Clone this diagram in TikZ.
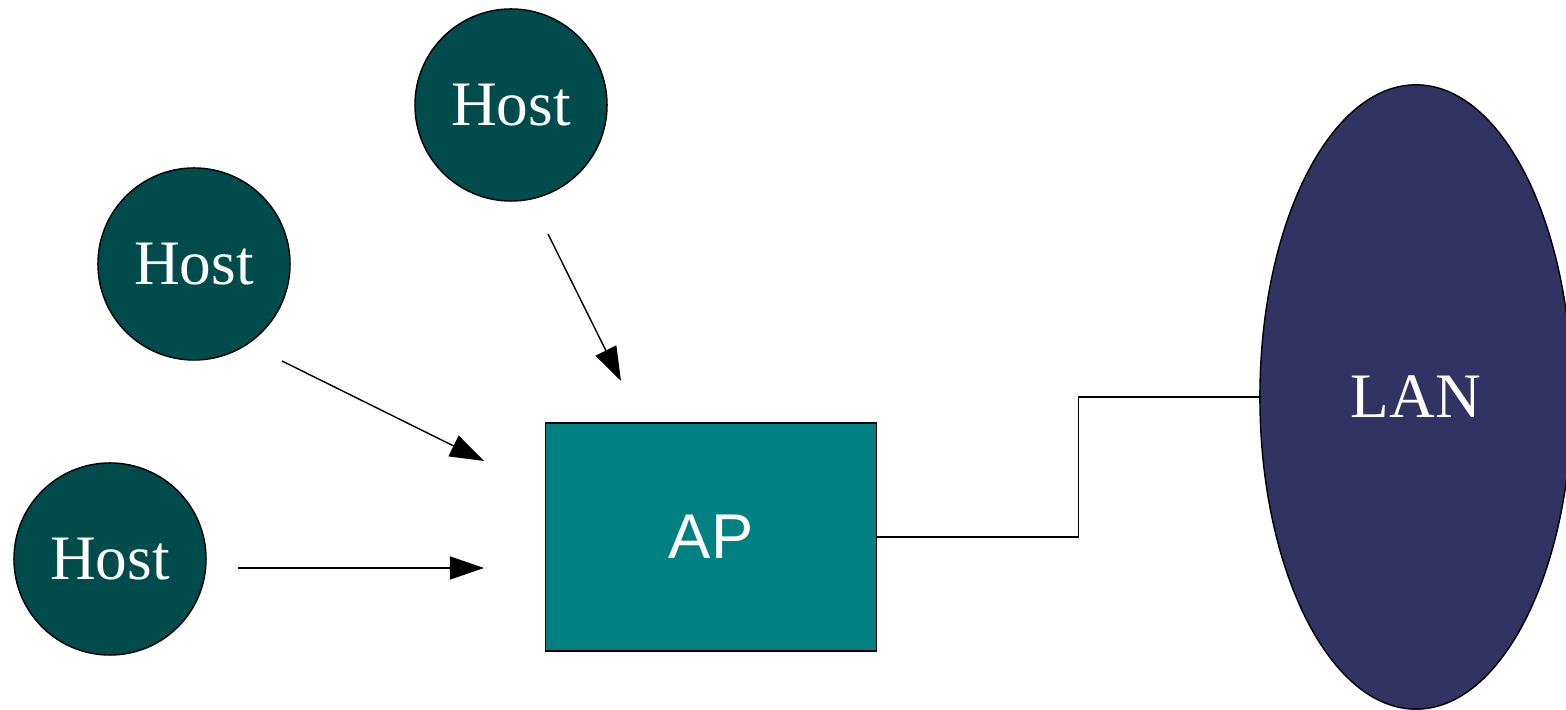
\documentclass[tikz,border=0pt]{standalone}
\usepackage{fontspec}
\setmainfont{Liberation Serif}
\setsansfont{Liberation Sans}
\usepackage{tikz}
\usetikzlibrary{arrows.meta,positioning,shapes.geometric}
\usepackage{xcolor}
\definecolor{hostgreen}{RGB}{0,76,76}
\definecolor{apteal}{RGB}{0,128,128}
\definecolor{lanblue}{RGB}{51,51,99}

\begin{document}
\begin{tikzpicture}[
  x=0.01cm, y=-0.01cm,
  host/.style={circle, draw, line width=0.4pt, fill=hostgreen, minimum size=1.92cm, inner sep=0pt, text=white, font=\fontsize{18}{20}\selectfont},
  apbox/.style={draw, line width=0.4pt, fill=apteal, minimum width=3.31cm, minimum height=2.28cm, text=white, font=\sffamily\fontsize{18}{20}\selectfont},
  lanshape/.style={ellipse, draw, line width=0.4pt, fill=lanblue, minimum width=3.12cm, minimum height=6.24cm, inner sep=0pt, text=white, font=\fontsize{18}{20}\selectfont},
  arr/.style={-{Triangle[length=0.34cm, width=0.23cm]}, line width=0.4pt},
  wire/.style={line width=0.4pt}
]
\useasboundingbox (0,0) rectangle (1566,710);

% Hosts
\node[host] (host1) at (511,105) {Host};
\node[host] (host2) at (194,264) {Host};
\node[host] (host3) at (110,559) {Host};

% Access point and LAN
\node[apbox] (ap) at (711,537) {AP};
\node[lanshape] (lan) at (1416,397) {LAN};

% Radio links into the AP
\coordinate (s1) at (548,234);
\coordinate (t1) at (621,381);
\coordinate (s2) at (282,361);
\coordinate (t2) at (484,461);
\coordinate (s3) at (238,568);
\coordinate (t3) at (484,568);
\draw[arr] (s1) -- (t1);
\draw[arr] (s2) -- (t2);
\draw[arr] (s3) -- (t3);

% Wired uplink
\draw[wire] (ap.east) -- ++(201,0) |- (lan.west);
\end{tikzpicture}
\end{document}
